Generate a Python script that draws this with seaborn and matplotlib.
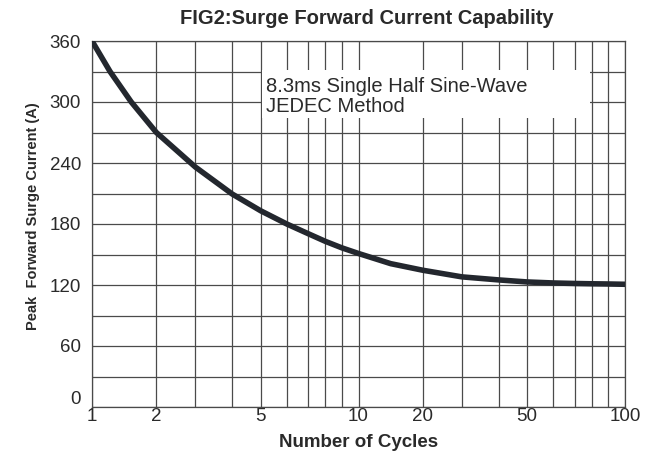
import numpy as np
import pandas as pd
import matplotlib
matplotlib.use("Agg")
import matplotlib.pyplot as plt
import matplotlib.transforms as mtransforms
from matplotlib.patches import Rectangle
import seaborn as sns

# ---- data ----
cycles = [1, 1.28, 1.61, 2, 3, 4, 5, 6, 7, 8, 9, 10, 15, 20, 30, 40, 50, 60, 70, 80, 90, 100]
current = [360, 330, 300, 270, 236, 209.5, 193, 180, 170.5, 163, 156.5, 151,
           141, 134.5, 128, 125, 123, 122, 121.5, 121.2, 121, 120.7]
x_major = [1, 2, 5, 10, 20, 50, 100]
x_major_labels = ["1", "2", "5", "10", "20", "50", "100"]
x_minor = [3, 4, 6, 7, 8, 9, 30, 40, 60, 70, 80, 90]
y_major = [0, 60, 120, 180, 240, 300, 360]
y_minor = [30, 90, 150, 210, 270, 330]
title = "FIG2:Surge Forward Current Capability"
xlabel = "Number of Cycles"
ylabel = "Peak  Forward Surge Current (A)"
note = "8.3ms Single Half Sine-Wave\nJEDEC Method"

df = pd.DataFrame({"cycles": cycles, "current": current})

sns.set_style("white")
plt.rcParams["font.family"] = ["Liberation Sans", "DejaVu Sans"]

# per-decade scale reproducing the datasheet's log-paper ruling
MANT = np.arange(1.0, 11.0)
FRAC = np.array([0.0, 0.2415, 0.388, 0.526, 0.633, 0.731, 0.811, 0.875, 0.938, 1.0])


def fwd(x):
    x = np.clip(np.asarray(x, dtype=float), 1e-9, None)
    d = np.floor(np.log10(x) + 1e-12)
    m = x / 10.0 ** d
    return d + np.interp(m, MANT, FRAC)


def inv(y):
    y = np.asarray(y, dtype=float)
    d = np.floor(y + 1e-12)
    f = y - d
    return np.interp(f, FRAC, MANT) * 10.0 ** d


fig = plt.figure(figsize=(6.51, 4.53), dpi=100)
ax = fig.add_axes([92 / 651, 1 - 407 / 453, 533 / 651, 366 / 453])
ax.set_xscale("function", functions=(fwd, inv))

grid_color = "#4a4a4a"
text_color = "#2a2a2a"
sns.lineplot(data=df, x="cycles", y="current", ax=ax, color="#23272e",
             linewidth=4.0, solid_capstyle="round", solid_joinstyle="round",
             zorder=4)

ax.set_xlim(1, 100)
ax.set_ylim(0, 360)
ax.set_xticks(x_major)
ax.set_xticklabels(x_major_labels)
ax.set_xticks(x_minor, minor=True)
ax.set_xticklabels([], minor=True)
ax.set_yticks(y_major)
ax.set_yticks(y_minor, minor=True)

ax.grid(which="both", color=grid_color, linewidth=0.9, zorder=1)
ax.set_axisbelow(True)
for s in ax.spines.values():
    s.set_color(grid_color)
    s.set_linewidth(0.9)
    s.set_visible(True)

ax.tick_params(axis="both", which="both", length=0, labelsize=13.5,
               labelcolor=text_color)
ax.tick_params(axis="x", pad=0.5)
ax.tick_params(axis="y", pad=8)

# white panel behind the note
box = Rectangle((5.05, 284), 79 - 5.05, 331.5 - 284, facecolor="white",
                edgecolor="none", zorder=2)
ax.add_patch(box)
ax.text(0.327, 0.848, note, transform=ax.transAxes, fontsize=14.5,
        color=text_color, ha="left", va="center", linespacing=1.02, zorder=5)

ax.set_xlabel(xlabel, fontsize=13.5, fontweight="bold", color=text_color,
              labelpad=7)
ax.set_ylabel(ylabel, fontsize=10.5, fontweight="bold", color=text_color)
ax.yaxis.set_label_coords((40 - 92) / 533, (407 - 216) / 366)
fig.text(367 / 651, 1 - 19 / 453, title, fontsize=14.5, fontweight="bold",
         color=text_color, ha="center", va="center")

# the "0" label sits a little above the baseline in the reference
fig.canvas.draw()
lbl0 = ax.get_yticklabels()[0]
lbl0.set_transform(lbl0.get_transform() +
                   mtransforms.ScaledTranslation(0, 9 / 100, fig.dpi_scale_trans))

fig.savefig("out.png", dpi=100)
